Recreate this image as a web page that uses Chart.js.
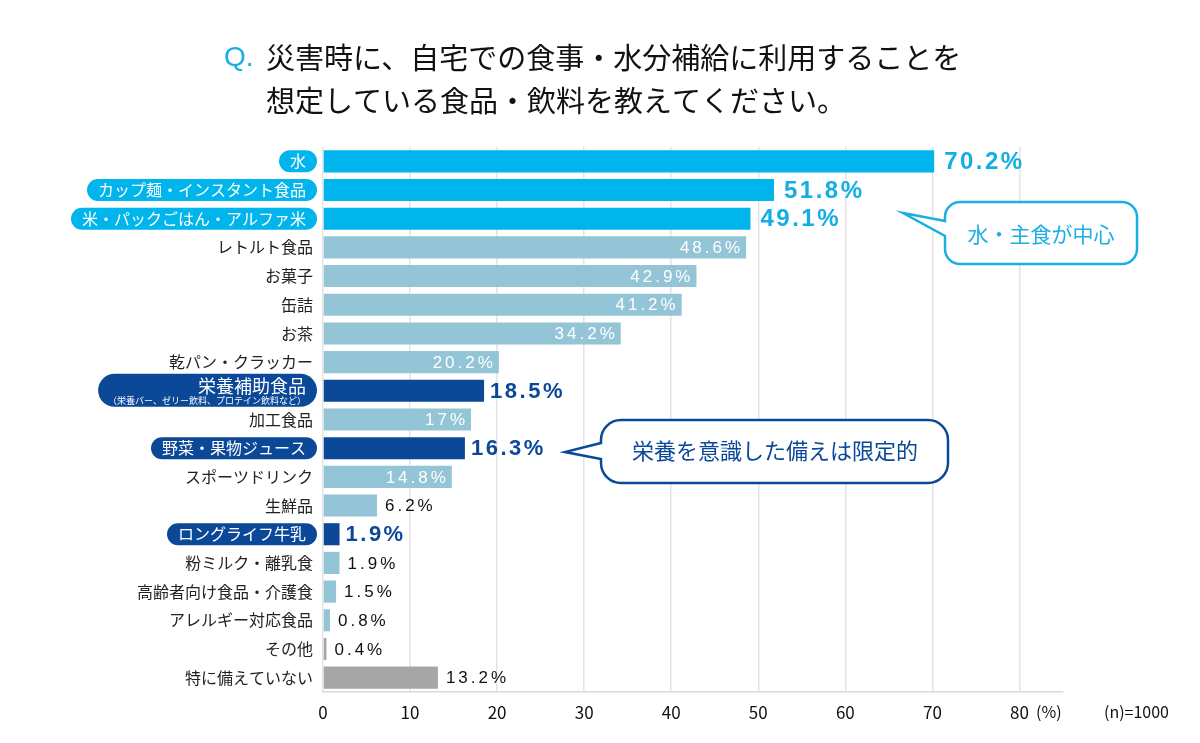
<!DOCTYPE html>
<html lang="ja">
<head>
<meta charset="utf-8">
<script src="https://cdn.jsdelivr.net/npm/chart.js@4"></script>
<style>
  html, body { margin: 0; padding: 0; background: #fff; }
  #wrap { width: 1200px; height: 743px; }
</style>
</head>
<body>
<div id="wrap"><canvas id="grafico" width="1200" height="743"></canvas></div>
<script>
const categorias = [
    '水', 'カップ麺・インスタント食品', '米・パックごはん・アルファ米', 'レトルト食品', 'お菓子',
    '缶詰', 'お茶', '乾パン・クラッカー', '栄養補助食品', '加工食品',
    '野菜・果物ジュース', 'スポーツドリンク', '生鮮品', 'ロングライフ牛乳', '粉ミルク・離乳食',
    '高齢者向け食品・介護食', 'アレルギー対応食品', 'その他', '特に備えていない'
];
const notas = ['', '', '', '', '', '', '', '', '（栄養バー、ゼリー飲料、プロテイン飲料など）', '', '', '', '', '', '', '', '', '', ''];
const valores = [70.2, 51.8, 49.1, 48.6, 42.9, 41.2, 34.2, 20.2, 18.5, 17, 16.3, 14.8, 6.2, 1.9, 1.9, 1.5, 0.8, 0.4, 13.2];
// grupo: destaque azul claro, destaque azul escuro, normal, cinza
const grupos = ['claro', 'claro', 'claro', 'normal', 'normal', 'normal', 'normal', 'normal', 'escuro', 'normal',
    'escuro', 'normal', 'normal', 'escuro', 'normal', 'normal', 'normal', 'cinza', 'cinza'];
const ticksX = [0, 10, 20, 30, 40, 50, 60, 70, 80];

const cores = { claro: '#00b5ec', escuro: '#0b4898', normal: '#93c5d6', cinza: '#a6a6a6' };
const corTexto = { claro: '#13aee4', escuro: '#0b4898' };

function pill(ctx, x1, y1, x2, y2) {
    const r = (y2 - y1) / 2;
    ctx.beginPath();
    ctx.moveTo(x1 + r, y1);
    ctx.lineTo(x2 - r, y1);
    ctx.arc(x2 - r, y1 + r, r, -Math.PI / 2, Math.PI / 2);
    ctx.lineTo(x1 + r, y2);
    ctx.arc(x1 + r, y1 + r, r, Math.PI / 2, Math.PI * 1.5);
    ctx.closePath();
    ctx.fill();
}

function balao(ctx, x1, y1, x2, y2, r, tip, baseA, baseB, cor) {
    ctx.save();
    ctx.strokeStyle = cor;
    ctx.lineWidth = 2.5;
    ctx.fillStyle = '#fff';
    ctx.beginPath();
    ctx.moveTo(x1 + r, y1);
    ctx.lineTo(x2 - r, y1);
    ctx.arcTo(x2, y1, x2, y1 + r, r);
    ctx.lineTo(x2, y2 - r);
    ctx.arcTo(x2, y2, x2 - r, y2, r);
    ctx.lineTo(x1 + r, y2);
    ctx.arcTo(x1, y2, x1, y2 - r, r);
    ctx.lineTo(x1, baseB);
    ctx.lineTo(tip[0], tip[1]);
    ctx.lineTo(x1, baseA);
    ctx.lineTo(x1, y1 + r);
    ctx.arcTo(x1, y1, x1 + r, y1, r);
    ctx.closePath();
    ctx.fill();
    ctx.stroke();
    ctx.restore();
}

const decoracao = {
    id: 'decoracao',
    afterDraw(chart) {
        const ctx = chart.ctx;
        const y = chart.scales.y;
        const meta = chart.getDatasetMeta(0);
        ctx.save();

        // título
        ctx.textBaseline = 'middle';
        ctx.textAlign = 'left';
        ctx.fillStyle = '#1aaee3';
        ctx.font = '28px "Liberation Sans", sans-serif';
        ctx.fillText('Q.', 224, 58);
        ctx.fillStyle = '#111';
        ctx.font = '29px "Noto Sans CJK JP", sans-serif';
        ctx.fillText('災害時に、自宅での食事・水分補給に利用することを', 266, 58);
        ctx.fillText('想定している食品・飲料を教えてください。', 266, 101);

        // rótulos do eixo y
        categorias.forEach((cat, i) => {
            const cy = y.getPixelForValue(i);
            const g = grupos[i];
            const destaque = g === 'claro' || g === 'escuro';
            ctx.textAlign = 'right';
            if (notas[i]) {
                ctx.font = '9px "Noto Sans CJK JP", sans-serif';
                const w = ctx.measureText(notas[i]).width;
                ctx.fillStyle = cores[g];
                pill(ctx, 306 - w - 10, cy - 17, 317, cy + 16);
                ctx.fillStyle = '#fff';
                ctx.font = '18px "Noto Sans CJK JP", sans-serif';
                ctx.fillText(cat, 306, cy - 5);
                ctx.font = '9px "Noto Sans CJK JP", sans-serif';
                ctx.fillText(notas[i], 306, cy + 10);
                return;
            }
            ctx.font = '16px "Noto Sans CJK JP", sans-serif';
            if (destaque) {
                const w = ctx.measureText(cat).width;
                ctx.fillStyle = cores[g];
                pill(ctx, 306 - w - 11, cy - 11, 317, cy + 11);
                ctx.fillStyle = '#fff';
                ctx.fillText(cat, 306, cy);
            } else {
                ctx.fillStyle = '#222';
                ctx.fillText(cat, 313, cy);
            }
        });

        // rótulos de valor
        meta.data.forEach((bar, i) => {
            const g = grupos[i];
            const txt = valores[i] + '%';
            if (g === 'claro' || g === 'escuro') {
                ctx.fillStyle = corTexto[g];
                ctx.font = (g === 'claro' ? 'bold 24px' : 'bold 22px') + ' "Liberation Sans", sans-serif';
                ctx.letterSpacing = '2.5px';
                ctx.textAlign = 'left';
                ctx.fillText(txt, bar.x + (g === 'claro' ? 10 : 6), bar.y + 1);
            } else if (g === 'normal' && valores[i] >= 14) {
                ctx.fillStyle = '#fff';
                ctx.font = '17px "Liberation Sans", sans-serif';
                ctx.letterSpacing = '3px';
                ctx.textAlign = 'right';
                ctx.fillText(txt, bar.x - 3, bar.y + 1);
            } else {
                ctx.fillStyle = '#111';
                ctx.font = '17px "Liberation Sans", sans-serif';
                ctx.letterSpacing = '3px';
                ctx.textAlign = 'left';
                ctx.fillText(txt, bar.x + 8, bar.y + 1);
            }
        });
        ctx.letterSpacing = '0px';

        // unidade e n
        ctx.fillStyle = '#111';
        ctx.font = '16px "Noto Sans CJK JP", sans-serif';
        ctx.textAlign = 'left';
        ctx.fillText('(%)', 1036, 712);
        ctx.fillText('(n)=1000', 1104, 712);

        // balões
        balao(ctx, 945, 202, 1137, 264, 15, [903, 213], 221, 236, '#1aaee3');
        ctx.fillStyle = '#1aaee3';
        ctx.font = '21px "Noto Sans CJK JP", sans-serif';
        ctx.textAlign = 'center';
        ctx.fillText('水・主食が中心', 1041, 234);

        balao(ctx, 601, 420, 948, 483, 20, [565, 452], 443, 459, '#0b4898');
        ctx.fillStyle = '#0b4898';
        ctx.font = '22px "Noto Sans CJK JP", sans-serif';
        ctx.fillText('栄養を意識した備えは限定的', 775, 451);

        ctx.restore();
    }
};

new Chart(document.getElementById('grafico').getContext('2d'), {
    type: 'bar',
    data: {
        labels: categorias,
        datasets: [{
            data: valores,
            backgroundColor: grupos.map(g => cores[g]),
            borderWidth: 0,
            categoryPercentage: 1,
            barPercentage: 0.77
        }]
    },
    options: {
        indexAxis: 'y',
        responsive: false,
        animation: false,
        devicePixelRatio: 1,
        layout: { padding: { top: 147, right: 137, bottom: 0, left: 0 } },
        plugins: { legend: { display: false }, tooltip: { enabled: false } },
        scales: {
            x: {
                min: 0,
                max: 85,
                afterBuildTicks: (s) => { s.ticks = ticksX.map(v => ({ value: v })); },
                afterFit: (s) => { s.height = 51; },
                ticks: {
                    color: '#111',
                    padding: 10,
                    font: { family: '"Noto Sans CJK JP", sans-serif', size: 17 }
                },
                grid: { color: '#e4e4e4', lineWidth: 1.5, drawTicks: false },
                border: { color: '#d9d9d9', width: 1.5 }
            },
            y: {
                afterFit: (s) => { s.width = 323; },
                ticks: { display: false },
                grid: { display: false },
                border: { display: false }
            }
        }
    },
    plugins: [decoracao]
});
</script>
</body>
</html>
